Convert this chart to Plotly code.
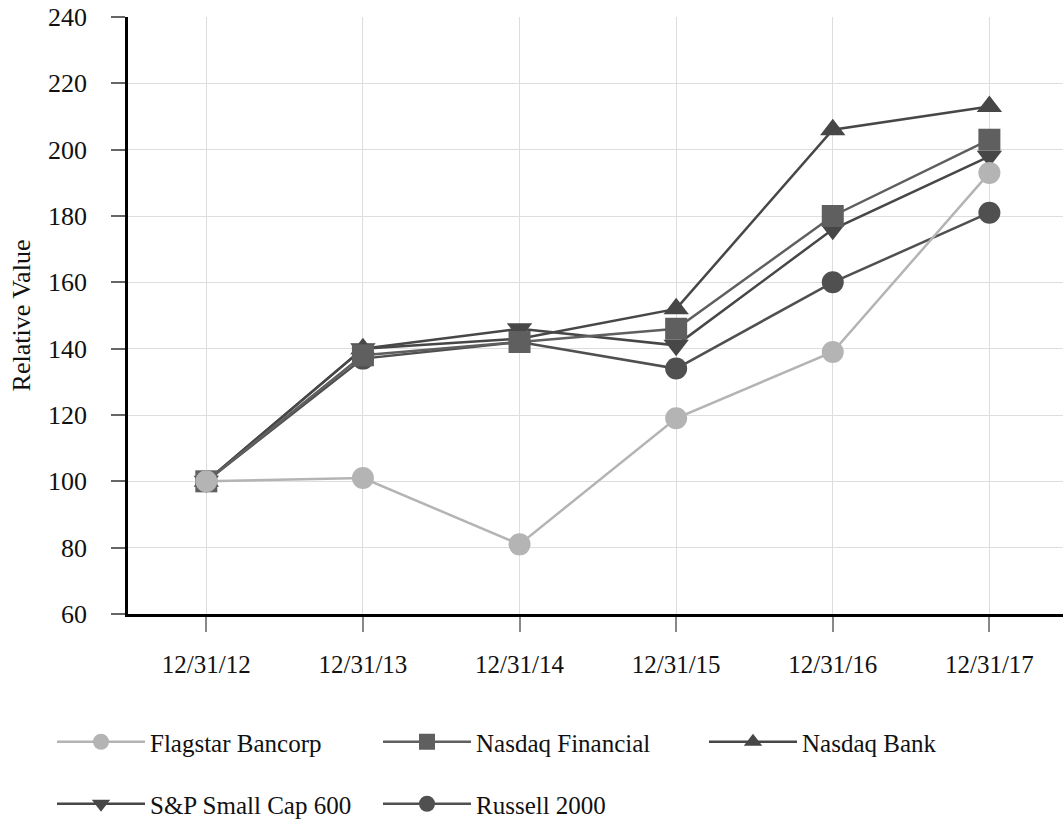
import plotly.graph_objects as go

categories = ["12/31/12", "12/31/13", "12/31/14", "12/31/15", "12/31/16", "12/31/17"]
flagstar = [100, 101, 81, 119, 139, 193]
nasdaq_financial = [100, 138, 142, 146, 180, 203]
nasdaq_bank = [100, 140, 143, 152, 206, 213]
sp_small_cap = [100, 140, 146, 141, 176, 198]
russell = [100, 137, 142, 134, 160, 181]
y_ticks = [60, 80, 100, 120, 140, 160, 180, 200, 220, 240]

series = [
    ("Russell 2000", russell, "circle", "#505050", "legend2"),
    ("S&P Small Cap 600", sp_small_cap, "triangle-down", "#474747", "legend2"),
    ("Nasdaq Bank", nasdaq_bank, "triangle-up", "#474747", "legend"),
    ("Nasdaq Financial", nasdaq_financial, "square", "#5f5f5f", "legend"),
    ("Flagstar Bancorp", flagstar, "circle", "#b4b4b4", "legend"),
]

fig = go.Figure()
for name, vals, sym, col, leg in series:
    fig.add_trace(go.Scatter(
        x=categories, y=vals, name=name, mode="lines+markers",
        line=dict(color=col, width=2.5),
        marker=dict(symbol=sym, size=22, color=col),
        legend=leg,
    ))

W, H = 1063, 823
ML, MT, MB = 128, 17, 209
PW, PH = W - ML, H - MT - MB

family = "Liberation Serif, Times New Roman, serif"
font = dict(family=family, size=25, color="#111")
legend_common = dict(
    orientation="h", xref="paper", yref="paper",
    xanchor="left", yanchor="middle", font=font,
    entrywidth=223, entrywidthmode="pixels", traceorder="reversed",
    bgcolor="rgba(0,0,0,0)", itemwidth=88,
)
fig.update_layout(
    width=W, height=H,
    margin=dict(l=ML, r=0, t=MT, b=MB, autoexpand=False),
    paper_bgcolor="white", plot_bgcolor="white",
    font=font,
    showlegend=True,
    legend=dict(x=(52 - ML) / PW, y=-(742 - (MT + PH)) / PH, **legend_common),
    legend2=dict(x=(52 - ML) / PW, y=-(804 - (MT + PH)) / PH, **legend_common),
)
fig.update_xaxes(
    type="category", range=[-0.5, 5.47],
    showgrid=True, gridcolor="#dddddd", gridwidth=1,
    showline=True, linecolor="black", linewidth=2.5,
    ticks="outside", ticklen=15, tickcolor="#888", tickwidth=1.5,
    ticklabelstandoff=11, tickfont=dict(family=family, size=25, color="#111"), zeroline=False,
)
fig.update_yaxes(
    range=[60, 240], tickvals=y_ticks,
    showgrid=True, gridcolor="#dddddd", gridwidth=1,
    showline=True, linecolor="black", linewidth=2.5,
    ticks="outside", ticklen=14, tickcolor="#666", tickwidth=1.5,
    ticklabelstandoff=19, tickfont=dict(family=family, size=26, color="#111"), zeroline=False,
    title=dict(text="Relative Value", font=dict(family=family, size=26, color="#111"), standoff=10),
)
fig.write_html("out.html")
